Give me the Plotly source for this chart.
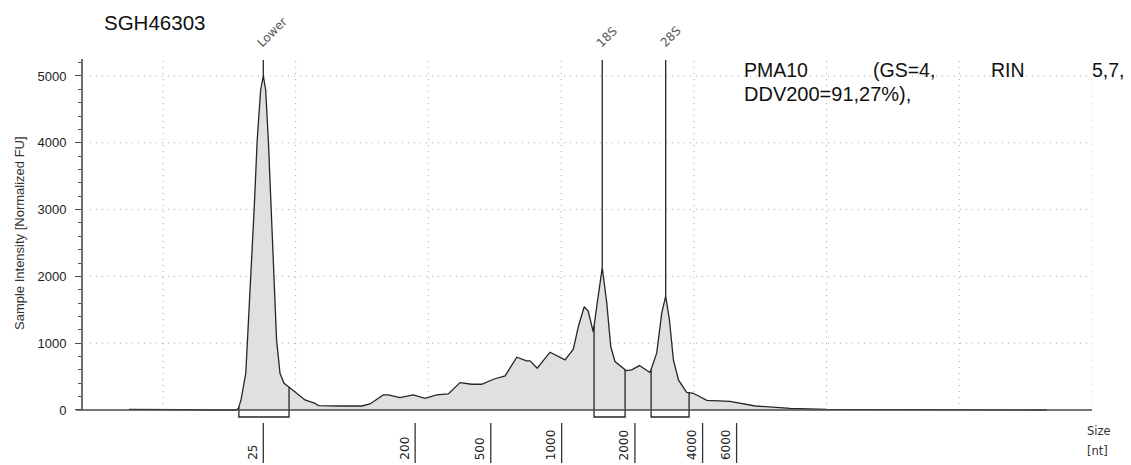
import numpy as np
import plotly.graph_objects as go

# ---------------- data ----------------
# migration time (arbitrary seconds axis, gridlines every 5 units)
mig_time = [18.72, 20.26, 20.45, 22.75, 22.84, 22.94, 23.12, 23.19, 23.32, 23.44,
            23.55, 23.68, 23.78, 23.87, 23.97, 24.07, 24.17, 24.28, 24.41, 24.56,
            24.72, 25.04, 25.35, 25.73, 25.85, 26.67, 27.49, 27.80, 28.30, 28.49,
            28.93, 29.43, 29.87, 30.31, 30.75, 31.19, 31.63, 32.01, 32.45, 32.89,
            33.33, 33.70, 33.83, 34.10, 34.58, 35.15, 35.46, 35.65, 35.87, 36.02,
            36.21, 36.36, 36.55, 36.72, 36.87, 37.03, 37.45, 37.66, 37.95, 38.35,
            38.60, 38.79, 38.94, 39.08, 39.23, 39.42, 39.73, 39.98, 40.49, 41.36,
            42.31, 43.63, 45.01, 47.77, 50.60, 51.54, 53.30]
intensity = [8, 8, 0, 0, 20, 150, 550, 1050, 2050, 3040,
             4040, 4790, 5000, 4790, 4040, 3040, 2050, 1050, 550, 400,
             350, 250, 150, 100, 65, 60, 60, 90, 225, 225,
             185, 225, 175, 225, 240, 410, 385, 385, 460, 510,
             790, 735, 735, 625, 865, 750, 910, 1250, 1545, 1480,
             1170, 1600, 2130, 1600, 950, 725, 590, 600, 665, 560,
             850, 1450, 1705, 1350, 750, 450, 265, 250, 145, 130,
             60, 25, 10, 5, 5, 0, 0]

ladder_labels = ["25", "200", "500", "1000", "2000", "4000", "6000"]
ladder_time = [23.78, 29.50, 32.35, 35.02, 37.78, 40.33, 41.61]

peak_names = ["Lower", "18S", "28S"]
peak_time = [23.78, 36.55, 38.94]

frag_start = [22.86, 36.24, 38.39]
frag_end = [24.75, 37.41, 39.82]

y_ticks = [0, 1000, 2000, 3000, 4000, 5000]
x_grid = [20, 25, 30, 35, 40, 45, 50, 55]

title_text = "SGH46303"
note_line1 = ["PMA10", "(GS=4,", "RIN", "5,7,"]
note_line2 = "DDV200=91,27%),"

# ---------------- layout geometry ----------------
W, H = 1131, 465
L, R, T, B = 82, 39, 59, 47
PW, PH = W - L - R, H - T - B
X_RANGE = [16.95, 55.0]
Y_RANGE = [-120, 5254]


def pxx(px):
    return (px - L) / PW


def pxy(py):
    return (H - B - py) / PH


ARIAL = "Liberation Sans, Arial, sans-serif"
SEGOE = "DejaVu Sans, sans-serif"
LINE = "#262626"

fig = go.Figure()

fig.add_trace(go.Scatter(
    x=mig_time, y=intensity, mode="lines", fill="tozeroy",
    fillcolor="#e0e0e0", line=dict(color=LINE, width=1.3),
    hoverinfo="skip", showlegend=False))

# peak marker lines
for t in peak_time:
    fig.add_trace(go.Scatter(
        x=[t, t], y=[float(np.interp(t, mig_time, intensity)), 5240],
        mode="lines", line=dict(color=LINE, width=1.3),
        hoverinfo="skip", showlegend=False))

# fragment brackets
for s, e in zip(frag_start, frag_end):
    fig.add_trace(go.Scatter(
        x=[s, s, e, e],
        y=[float(np.interp(s, mig_time, intensity)), -105, -105,
           float(np.interp(e, mig_time, intensity))],
        mode="lines", line=dict(color=LINE, width=1.3),
        hoverinfo="skip", showlegend=False))

shapes = []
# dotted grid
for v in y_ticks[1:]:
    shapes.append(dict(type="line", xref="paper", yref="y", x0=pxx(90), x1=1,
                       y0=v, y1=v, line=dict(color="#a8a8a8", width=1, dash="1px,5px"),
                       layer="below"))
for g in x_grid:
    shapes.append(dict(type="line", xref="x", yref="y", x0=g, x1=g,
                       y0=90, y1=Y_RANGE[1], line=dict(color="#a8a8a8", width=1, dash="1px,5px"),
                       layer="below"))
# axes lines
shapes.append(dict(type="line", xref="paper", yref="y", x0=pxx(76), x1=1, y0=0, y1=0,
                   line=dict(color="#4a4a4a", width=1.6)))
shapes.append(dict(type="line", xref="paper", yref="y", x0=0, x1=0, y0=0, y1=Y_RANGE[1],
                   line=dict(color="#4a4a4a", width=1.6)))
# ladder tick marks
for t in ladder_time:
    shapes.append(dict(type="line", xref="x", yref="paper", x0=t, x1=t,
                       y0=pxy(423), y1=pxy(463), line=dict(color="#333333", width=1.3)))

ann = []
ann.append(dict(text=title_text, xref="paper", yref="paper", x=pxx(102), y=pxy(23),
                xanchor="left", yanchor="middle", showarrow=False,
                font=dict(family=ARIAL, size=20.5, color="#111")))
word_left = [742, 871, 989]
for w, xl in zip(note_line1[:3], word_left):
    ann.append(dict(text=w, xref="paper", yref="paper", x=pxx(xl), y=pxy(70),
                    xanchor="left", yanchor="middle", showarrow=False,
                    font=dict(family=ARIAL, size=19.5, color="#111")))
ann.append(dict(text=note_line1[3], xref="paper", yref="paper", x=pxx(1127), y=pxy(70),
                xanchor="right", yanchor="middle", showarrow=False,
                font=dict(family=ARIAL, size=19.5, color="#111")))
ann.append(dict(text=note_line2, xref="paper", yref="paper", x=pxx(742), y=pxy(94),
                xanchor="left", yanchor="middle", showarrow=False,
                font=dict(family=ARIAL, size=20, color="#111")))

# peak names
for name, t in zip(peak_names, peak_time):
    ann.append(dict(text=name, xref="x", yref="paper", x=t, xshift=-10, y=pxy(51),
                    xanchor="left", yanchor="bottom", textangle=-45, showarrow=False,
                    borderpad=0, font=dict(family=SEGOE, size=12, color="#555")))
# ladder labels
for lab, t in zip(ladder_labels, ladder_time):
    ann.append(dict(text=lab, xref="x", yref="paper", x=t, xshift=-3, y=pxy(461),
                    xanchor="right", yanchor="bottom", textangle=-90, showarrow=False,
                    borderpad=0, font=dict(family=SEGOE, size=12, color="#222")))
# Size [nt]
ann.append(dict(text="Size", xref="paper", yref="paper", x=pxx(1085), y=pxy(431),
                xanchor="left", yanchor="middle", showarrow=False,
                font=dict(family=SEGOE, size=11.5, color="#333")))
ann.append(dict(text="[nt]", xref="paper", yref="paper", x=pxx(1085), y=pxy(451),
                xanchor="left", yanchor="middle", showarrow=False,
                font=dict(family=SEGOE, size=11.5, color="#333")))
# y-axis title
ann.append(dict(text="Sample Intensity [Normalized FU]", xref="paper", yref="paper",
                x=pxx(19), y=pxy(233), xanchor="center", yanchor="middle",
                textangle=-90, showarrow=False,
                font=dict(family=ARIAL, size=13, color="#333")))

fig.update_layout(
    width=W, height=H, margin=dict(l=L, r=R, t=T, b=B),
    paper_bgcolor="white", plot_bgcolor="white",
    shapes=shapes, annotations=ann, showlegend=False,
    xaxis=dict(range=X_RANGE, showticklabels=False, ticks="", showgrid=False,
               showline=False, zeroline=False, fixedrange=True),
    yaxis=dict(range=Y_RANGE, tickvals=y_ticks, ticks="outside", ticklen=6,
               tickwidth=1, tickcolor="#4a4a4a", showgrid=False, showline=False,
               zeroline=False, ticklabelstandoff=6,
               tickfont=dict(family=ARIAL, size=13, color="#222"),
               minor=dict(dtick=200, tick0=0, ticks="outside", ticklen=3,
                          tickcolor="#4a4a4a", showgrid=False)),
)

fig.write_html("out.html", config={"displayModeBar": False},
               post_script="document.body.style.margin='0px';document.body.style.overflow='hidden';")
